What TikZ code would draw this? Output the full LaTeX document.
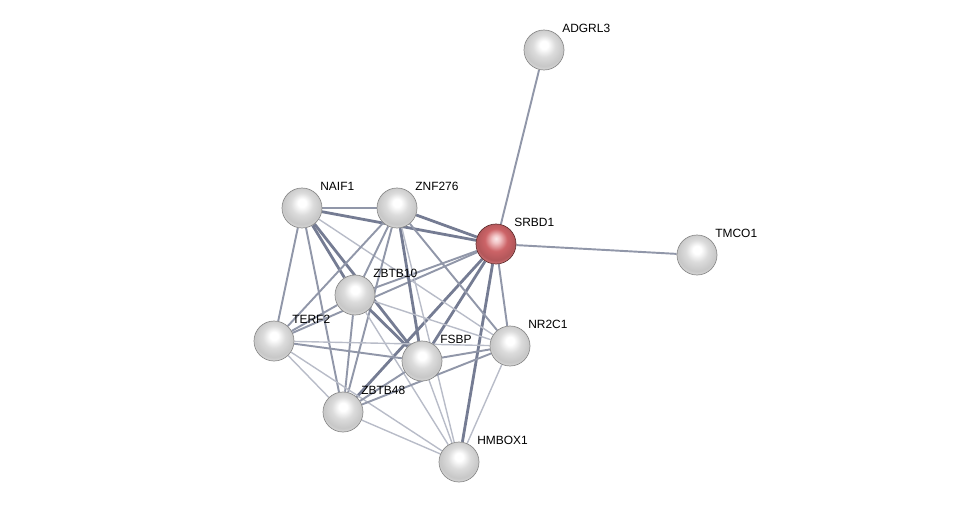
\documentclass[tikz,border=0pt]{standalone}
\usepackage{fontspec}
\setmainfont{Liberation Sans}
\usetikzlibrary{backgrounds}
\definecolor{edgecol}{RGB}{98,106,132}
\definecolor{ballred}{RGB}{222,108,112}
\pgfdeclareradialshading{grayball}{\pgfqpoint{0bp}{7bp}}{%
  color(0bp)=(white); color(5bp)=(white); color(14bp)=(black!14);
  color(24bp)=(black!22); color(30bp)=(black!12); color(50bp)=(black!12)}
\pgfdeclareradialshading{redball}{\pgfqpoint{0bp}{7bp}}{%
  color(0bp)=(white!85!ballred); color(5bp)=(white!60!ballred); color(14bp)=(ballred!92!black);
  color(24bp)=(ballred!80!black); color(30bp)=(ballred!80!white); color(50bp)=(ballred!80!white)}
\tikzset{
  protein/.style={circle, minimum size=0.8cm, inner sep=0pt, shading=grayball,
    draw=black!45, line width=0.4pt},
  query/.style={protein, shading=redball, draw=ballred!45!black},
  genename/.style={anchor=base west, inner sep=0pt, font=\fontsize{6.8}{8}\selectfont},
  weak/.style={draw=edgecol!45, line width=0.8pt},
  mid/.style={draw=edgecol!70, line width=1.1pt},
  strong/.style={draw=edgecol!88, line width=1.6pt},
}
\begin{document}
\begin{tikzpicture}[x=0.02cm, y=-0.02cm]
\useasboundingbox (0,0) rectangle (975,507);
% proteins
\node[protein] (adgrl3) at (544,50) {};
\node[query] (srbd1) at (496,244) {};
\node[protein] (tmco1) at (697,255) {};
\node[protein] (naif1) at (302,208) {};
\node[protein] (znf276) at (397,208) {};
\node[protein] (zbtb10) at (355,295) {};
\node[protein] (terf2) at (274,341) {};
\node[protein] (fsbp) at (422,361) {};
\node[protein] (nr2c1) at (510,346) {};
\node[protein] (zbtb48) at (343,412) {};
\node[protein] (hmbox1) at (459,462) {};
% names
\node[genename] (adgrl3-n) at ([shift={(18,-18)}]adgrl3.center) {ADGRL3};
\node[genename] (srbd1-n) at ([shift={(18,-18)}]srbd1.center) {SRBD1};
\node[genename] (tmco1-n) at ([shift={(18,-18)}]tmco1.center) {TMCO1};
\node[genename] (naif1-n) at ([shift={(18,-18)}]naif1.center) {NAIF1};
\node[genename] (znf276-n) at ([shift={(18,-18)}]znf276.center) {ZNF276};
\node[genename] (zbtb10-n) at ([shift={(18,-18)}]zbtb10.center) {ZBTB10};
\node[genename] (terf2-n) at ([shift={(18,-18)}]terf2.center) {TERF2};
\node[genename] (fsbp-n) at ([shift={(18,-18)}]fsbp.center) {FSBP};
\node[genename] (nr2c1-n) at ([shift={(18,-18)}]nr2c1.center) {NR2C1};
\node[genename] (zbtb48-n) at ([shift={(18,-18)}]zbtb48.center) {ZBTB48};
\node[genename] (hmbox1-n) at ([shift={(18,-18)}]hmbox1.center) {HMBOX1};
% interactions
\begin{pgfonlayer}{background}
\draw[mid] (srbd1) -- (adgrl3);
\draw[mid] (srbd1) -- (tmco1);
\draw[strong] (srbd1) -- (naif1);
\draw[strong] (srbd1) -- (znf276);
\draw[mid] (srbd1) -- (zbtb10);
\draw[mid] (srbd1) -- (terf2);
\draw[strong] (srbd1) -- (fsbp);
\draw[mid] (srbd1) -- (nr2c1);
\draw[strong] (srbd1) -- (zbtb48);
\draw[strong] (srbd1) -- (hmbox1);
\draw[mid] (naif1) -- (znf276);
\draw[strong] (naif1) -- (zbtb10);
\draw[mid] (naif1) -- (terf2);
\draw[strong] (naif1) -- (fsbp);
\draw[mid] (naif1) -- (zbtb48);
\draw[weak] (naif1) -- (nr2c1);
\draw[mid] (znf276) -- (zbtb10);
\draw[mid] (znf276) -- (terf2);
\draw[strong] (znf276) -- (fsbp);
\draw[mid] (znf276) -- (nr2c1);
\draw[mid] (znf276) -- (zbtb48);
\draw[weak] (znf276) -- (hmbox1);
\draw[mid] (zbtb10) -- (terf2);
\draw[strong] (zbtb10) -- (fsbp);
\draw[weak] (zbtb10) -- (nr2c1);
\draw[mid] (zbtb10) -- (zbtb48);
\draw[weak] (zbtb10) -- (hmbox1);
\draw[mid] (terf2) -- (fsbp);
\draw[weak] (terf2) -- (nr2c1);
\draw[weak] (terf2) -- (zbtb48);
\draw[weak] (terf2) -- (hmbox1);
\draw[mid] (fsbp) -- (nr2c1);
\draw[mid] (fsbp) -- (zbtb48);
\draw[weak] (fsbp) -- (hmbox1);
\draw[mid] (nr2c1) -- (zbtb48);
\draw[weak] (nr2c1) -- (hmbox1);
\draw[weak] (zbtb48) -- (hmbox1);
\end{pgfonlayer}
\end{tikzpicture}
\end{document}
